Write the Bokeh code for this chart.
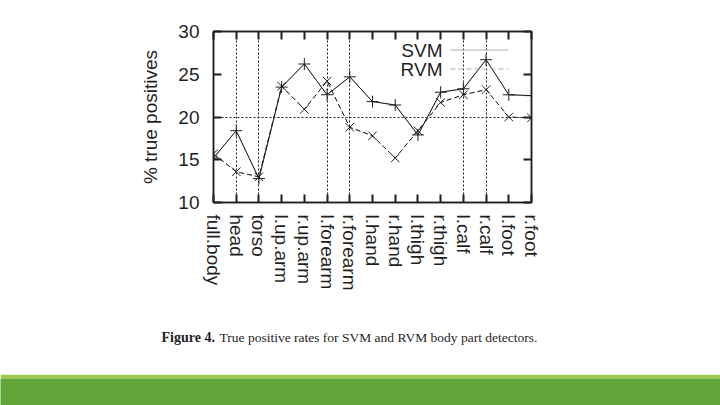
from bokeh.plotting import figure
from bokeh.models import (FixedTicker, LinearAxis, Range1d, Label, Legend, LegendItem)
from bokeh.layouts import column
from bokeh.embed import file_html
from bokeh.resources import INLINE

# ---- data ----
categories = ["full.body", "head", "torso", "l.up.arm", "r.up.arm", "l.forearm",
              "r.forearm", "l.hand", "r.hand", "l.thigh", "r.thigh", "l.calf",
              "r.calf", "l.foot", "r.foot"]
svm = [15.2, 18.4, 12.8, 23.5, 26.2, 22.6, 24.7, 21.8, 21.4, 17.9, 22.9, 23.3, 26.7, 22.6, 22.5]
rvm = [15.7, 13.6, 13.0, 23.6, 20.9, 24.2, 18.8, 17.8, 15.2, 18.4, 21.7, 22.6, 23.2, 20.0, 19.9]
y_ticks = [10, 15, 20, 25, 30]
grid_categories = ["head", "torso", "l.forearm", "r.forearm", "l.calf", "r.calf"]
grid_values = [20]
series_names = ["SVM", "RVM"]
y_title = "% true positives"
caption_bold = "Figure 4."
caption_rest = "True positive rates for SVM and RVM body part detectors."

FONT = "Liberation Sans"
FS = "19px"
INK = "#1f1f1f"
KEY = "#b0b0b0"
W = 720

xs = list(range(len(categories)))

p = figure(width=W, height=310, output_backend="svg", toolbar_location=None,
           x_range=Range1d(0, len(categories) - 1), y_range=Range1d(y_ticks[0], y_ticks[-1]),
           min_border_left=213, min_border_right=189, min_border_top=31, min_border_bottom=108)
p.background_fill_color = "white"
p.border_fill_color = "white"
p.outline_line_color = INK
p.outline_line_width = 1.5

bottom = p.xaxis[0]
left = p.yaxis[0]
bottom.ticker = FixedTicker(ticks=xs, minor_ticks=[])
bottom.major_label_overrides = {i: c for i, c in enumerate(categories)}
bottom.major_label_orientation = "vertical"
left.ticker = FixedTicker(ticks=y_ticks, minor_ticks=[])
left.axis_label = y_title

top = LinearAxis(ticker=FixedTicker(ticks=xs, minor_ticks=[]))
right = LinearAxis(ticker=FixedTicker(ticks=y_ticks, minor_ticks=[]))
p.add_layout(top, "above")
p.add_layout(right, "right")

for ax in [bottom, left, top, right]:
    ax.axis_line_color = INK
    ax.axis_line_width = 1.5
    ax.major_tick_in = 8
    ax.major_tick_out = 0
    ax.major_tick_line_color = INK
    ax.major_tick_line_width = 2
    ax.minor_tick_line_color = None
    ax.major_label_text_font = FONT
    ax.major_label_text_font_size = FS
    ax.major_label_text_color = INK
    ax.axis_label_text_font = FONT
    ax.axis_label_text_font_size = FS
    ax.axis_label_text_font_style = "normal"
    ax.axis_label_text_color = INK

for ax in [top, right]:
    ax.major_label_text_font_size = "1px"
    ax.major_label_text_alpha = 0
left.major_label_standoff = 14
left.axis_label_standoff = 14
bottom.major_label_standoff = 12

# grid
p.xgrid.ticker = FixedTicker(ticks=[categories.index(c) for c in grid_categories])
p.ygrid.ticker = FixedTicker(ticks=grid_values)
for g in [p.xgrid[0], p.ygrid[0]]:
    g.grid_line_color = INK
    g.grid_line_width = 1
    g.grid_line_dash = "2 2"

# series: light-grey copies underneath serve as the (light) legend samples
k1 = p.line(xs, svm, line_color=KEY, line_width=1)
k2 = p.line(xs, rvm, line_color=KEY, line_width=1, line_dash="5 3")
p.line(xs, svm, line_color=INK, line_width=1)
p.scatter(xs, svm, marker="cross", size=12, line_color=INK, line_width=1)
p.line(xs, rvm, line_color=INK, line_width=1, line_dash="5 3")
p.scatter(xs, rvm, marker="x", size=12, line_color=INK, line_width=1)

legend = Legend(items=[LegendItem(label=series_names[0], renderers=[k1]),
                       LegendItem(label=series_names[1], renderers=[k2])],
                location=(237, 124), orientation="vertical", glyph_width=58, glyph_height=19,
                spacing=0, padding=0, margin=0, label_standoff=0, label_width=0,
                label_text_alpha=0, label_text_font_size="1px",
                border_line_color=None, background_fill_alpha=0)
p.add_layout(legend)

for i, name in enumerate(series_names):
    p.add_layout(Label(x=229, y=152 - 19 * i, x_units="screen", y_units="screen", text=name,
                       text_align="right", text_baseline="middle", text_font=FONT,
                       text_font_size=FS, text_color=INK))

# caption strip
cap = figure(width=W, height=64, output_backend="svg", toolbar_location=None,
             x_axis_type=None, y_axis_type=None, min_border_left=0, min_border_right=0,
             min_border_top=0, min_border_bottom=0, frame_align=False)
cap.outline_line_color = None
cap.grid.visible = False
cap.add_layout(Label(x=161, y=37, x_units="screen", y_units="screen", text=caption_bold,
                     text_font="Liberation Serif", text_font_style="bold", text_font_size="14px",
                     text_baseline="alphabetic", text_color=INK))
cap.add_layout(Label(x=219, y=37, x_units="screen", y_units="screen", text=caption_rest,
                     text_font="Liberation Serif", text_font_size="13.5px",
                     text_baseline="alphabetic", text_color=INK))

# green band at the bottom of the slide
band = figure(width=W, height=31, output_backend="svg", toolbar_location=None,
              x_axis_type=None, y_axis_type=None, min_border_left=0, min_border_right=0,
              min_border_top=4, min_border_bottom=0, frame_align=False)
band.border_fill_color = "#9dc94c"
band.background_fill_color = "#62a438"
band.outline_line_color = None
band.grid.visible = False

layout = column(p, cap, band, spacing=0)
open("out.html", "w").write(file_html(layout, INLINE))
